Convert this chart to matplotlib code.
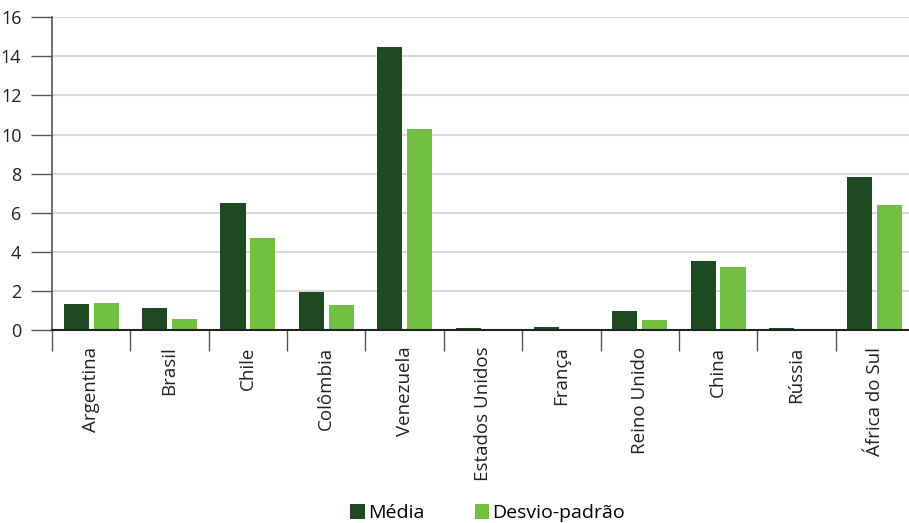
import matplotlib
matplotlib.use("Agg")
import matplotlib.pyplot as plt
import numpy as np

categories = ["Argentina", "Brasil", "Chile", "Colômbia", "Venezuela", "Estados Unidos",
              "França", "Reino Unido", "China", "Rússia", "África do Sul"]
media = [1.33, 1.13, 6.51, 1.95, 14.5, 0.10, 0.15, 0.97, 3.54, 0.10, 7.85]
desvio = [1.38, 0.56, 4.72, 1.28, 10.3, 0.0, 0.06, 0.51, 3.23, 0.05, 6.41]
yticks = [0, 2, 4, 6, 8, 10, 12, 14, 16]

plt.rcParams['font.family'] = ['Open Sans', 'DejaVu Sans']

W, H = 909, 523
fig = plt.figure(figsize=(W/100, H/100), dpi=100)
left, right = 52/W, 914/W
bottom, top = 1 - 330/H, 1 - 17.3/H
ax = fig.add_axes([left, bottom, right - left, top - bottom])

dark = "#1e4a22"
light = "#72bf44"
x = np.arange(len(categories))
bw = 0.32
ax.bar(x - 0.19, media, bw, color=dark, label="Média", zorder=3)
ax.bar(x + 0.19, desvio, bw, color=light, label="Desvio-padrão", zorder=3)

ax.set_xlim(-0.5, len(categories) - 0.5)
ax.set_ylim(0, 16)
ax.set_yticks(yticks)
ax.set_yticklabels([str(v) for v in yticks], fontsize=13, color="#222222")
ax.tick_params(axis='y', length=15, width=1, color="#555555", pad=7)
ax.grid(axis='y', color="#d9d9d9", linewidth=1.5, zorder=0)

ax.set_xticks(x)
ax.set_xticklabels(categories, rotation=90, fontsize=13.5, color="#222222")
ax.tick_params(axis='x', length=0, pad=12)
# boundary ticks
ax.set_xticks(np.arange(len(categories) + 1) - 0.5, minor=True)
ax.tick_params(axis='x', which='minor', length=15, width=1, color="#555555")

for s in ["top", "right"]:
    ax.spines[s].set_visible(False)
ax.spines["left"].set_color("#555555")
ax.spines["left"].set_linewidth(1.2)
ax.spines["bottom"].set_color("#222222")
ax.spines["bottom"].set_linewidth(1.5)
ax.spines["bottom"].set_zorder(4)

leg = fig.legend(loc="lower center", bbox_to_anchor=((left + right) / 2 + 0.005, -0.032), ncol=2,
                 frameon=False, fontsize=14, handlelength=0.75, handleheight=0.75,
                 handletextpad=0.15, columnspacing=2.6)

fig.savefig("out.png", dpi=100)
